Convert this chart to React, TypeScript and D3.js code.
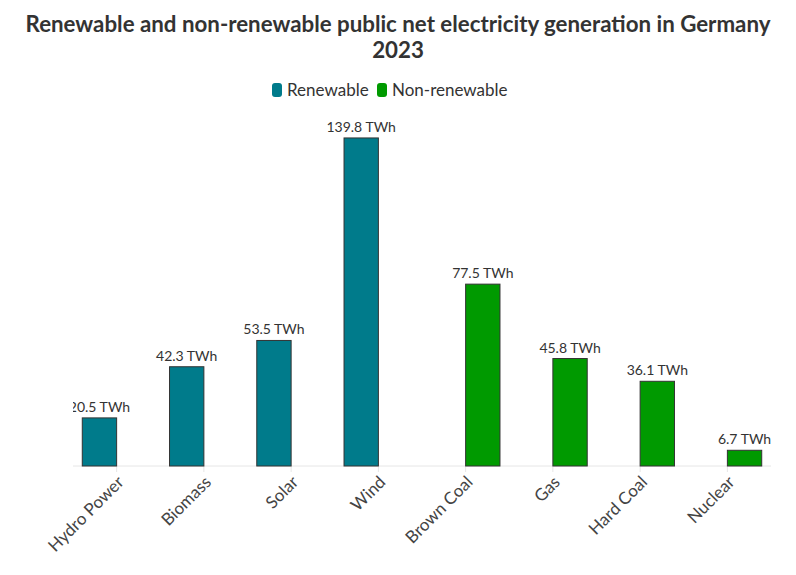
import React from 'react';
import * as d3 from 'd3';

const categories = ['Hydro Power', 'Biomass', 'Solar', 'Wind', 'Brown Coal', 'Gas', 'Hard Coal', 'Nuclear'];
const seriesNames = ['Renewable', 'Non-renewable'];
const renewable: (number | null)[] = [20.5, 42.3, 53.5, 139.8, null, null, null, null];
const nonRenewable: (number | null)[] = [null, null, null, null, 77.5, 45.8, 36.1, 6.7];
const colors = ['#007b8b', '#009a00'];

const width = 796;
const height = 575;
const margin = { top: 118, right: 25, bottom: 109, left: 73 };
const font = 'Lato, "Source Sans Pro", sans-serif';

const App: React.FC = () => {
  const innerW = width - margin.left - margin.right;
  const innerH = height - margin.top - margin.bottom;

  const x0 = d3.scaleBand<string>().domain(categories).range([0, innerW]).padding(0);
  const x1 = d3
    .scaleBand<string>()
    .domain(seriesNames)
    .range([0, x0.bandwidth()])
    .paddingInner(0)
    .paddingOuter(0.27);
  // 139.8 reaches y=138 with baseline at 466
  const y = d3.scaleLinear().domain([0, 148.3]).range([innerH, 0]);

  const series = [renewable, nonRenewable];

  // legend layout
  const legendItems = [
    { name: seriesNames[0], x: 272, tx: 287 },
    { name: seriesNames[1], x: 377, tx: 392 },
  ];

  return (
    <svg width={width} height={height} style={{ position: 'absolute', left: 0, top: 0, fontFamily: font }}>
      <defs>
        <clipPath id="plotClip">
          <rect x={0} y={-margin.top} width={innerW} height={innerH + margin.top} />
        </clipPath>
      </defs>
      <rect width={width} height={height} fill="#fff" />
      <text x={width / 2} y={32} textAnchor="middle" fontSize={22.3} fontWeight={700} fill="#333">
        Renewable and non-renewable public net electricity generation in Germany
      </text>
      <text x={width / 2} y={58} textAnchor="middle" fontSize={22.3} fontWeight={700} fill="#333">
        2023
      </text>

      {legendItems.map((d, i) => (
        <g key={d.name}>
          <rect x={d.x} y={83} width={10} height={14} rx={3} fill={colors[i]} />
          <text x={d.tx} y={96} fontSize={17} fill="#333">
            {d.name}
          </text>
        </g>
      ))}

      <g transform={`translate(${margin.left},${margin.top})`}>
        <line x1={0} x2={innerW} y1={innerH} y2={innerH} stroke="#e6e6e6" strokeWidth={1} />
        {categories.map(c => {
          const cx = (x0(c) ?? 0) + x0.bandwidth() / 2;
          return (
            <g key={c}>
              <line x1={cx} x2={cx} y1={innerH} y2={innerH + 6} stroke="#e6e6e6" />
              <text
                transform={`translate(${cx + 4},${innerH + 13}) rotate(-45)`}
                textAnchor="end"
                fontSize={17}
                fill="#444"
                dy="0.35em"
              >
                {c}
              </text>
            </g>
          );
        })}

        {series.map((vals, si) =>
          vals.map((v, ci) => {
            if (v == null) return null;
            const bx = (x0(categories[ci]) ?? 0) + (x1(seriesNames[si]) ?? 0);
            return (
              <rect
                key={`${si}-${ci}`}
                x={bx}
                y={y(v)}
                width={x1.bandwidth()}
                height={innerH - y(v)}
                fill={colors[si]}
                stroke="#333"
                strokeWidth={1}
              />
            );
          })
        )}

        <g clipPath="url(#plotClip)">
          {series.map((vals, si) =>
            vals.map((v, ci) => {
              if (v == null) return null;
              const bx = (x0(categories[ci]) ?? 0) + (x1(seriesNames[si]) ?? 0) + x1.bandwidth() / 2;
              return (
                <text
                  key={`l-${si}-${ci}`}
                  x={bx}
                  y={y(v) - 6}
                  textAnchor="middle"
                  fontSize={14}
                  fill="#333"
                >
                  {`${v.toFixed(1)} TWh`}
                </text>
              );
            })
          )}
        </g>
      </g>
    </svg>
  );
};

export default App;
